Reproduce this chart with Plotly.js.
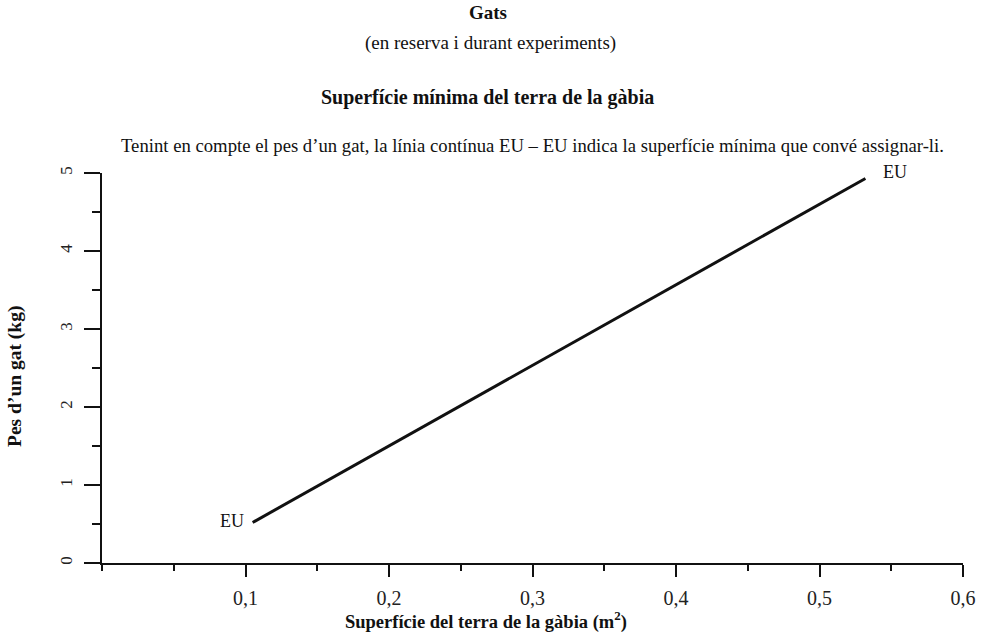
<!DOCTYPE html>
<html>
<head>
<meta charset="utf-8">
<script src="https://cdn.plot.ly/plotly-3.0.1.min.js"></script>
<style>html,body{margin:0;padding:0;background:#fff;}#chart{width:984px;height:635px;}</style>
</head>
<body>
<div id="chart"></div>
<script>
// Data
const surface = [0.105, 0.532];      // m²
const weight  = [0.52, 4.93];        // kg
const lineLabels = ['EU', 'EU'];
const xTickVals = [0.1, 0.2, 0.3, 0.4, 0.5, 0.6];
const yTickVals = [0, 1, 2, 3, 4, 5];

const serif = 'Liberation Serif';

const trace = {
  x: surface, y: weight, type: 'scatter', mode: 'lines',
  line: {color: '#111', width: 3}, hoverinfo: 'skip', showlegend: false
};

const layout = {
  width: 984, height: 635,
  margin: {l: 102, r: 21, t: 173, b: 72},
  paper_bgcolor: '#fff', plot_bgcolor: '#fff',
  separators: ',.',
  font: {family: serif, color: '#111', size: 17},
  showlegend: false,
  xaxis: {
    range: [0, 0.6], showgrid: false, zeroline: false,
    showline: true, linecolor: '#111', linewidth: 2,
    tickmode: 'array', tickvals: xTickVals, tickformat: '.1f',
    ticks: 'outside', ticklen: 12, tickwidth: 2, tickcolor: '#111',
    minor: {dtick: 0.05, tick0: 0, ticks: 'outside', ticklen: 6, tickwidth: 2, tickcolor: '#111', showgrid: false},
    ticklabelstandoff: 4,
    tickfont: {family: serif, size: 20, color: '#222'}
  },
  yaxis: {
    range: [0, 5], showgrid: false, zeroline: false,
    showline: true, linecolor: '#111', linewidth: 2,
    tickmode: 'array', tickvals: yTickVals, tickangle: -90,
    ticks: 'outside', ticklen: 16, tickwidth: 2, tickcolor: '#111',
    minor: {dtick: 0.5, tick0: 0, ticks: 'outside', ticklen: 8, tickwidth: 2, tickcolor: '#111', showgrid: false},
    ticklabelstandoff: 5,
    tickfont: {family: serif, size: 17, color: '#222'}
  },
  annotations: [
    {text: '<b>Gats</b>', xref: 'paper', yref: 'paper', x: 0.448, y: 1, yshift: 173 - 12, xanchor: 'center', yanchor: 'middle', showarrow: false, font: {family: serif, size: 19}},
    {text: '(en reserva i durant experiments)', xref: 'paper', yref: 'paper', x: 0.451, y: 1, yshift: 173 - 43, xanchor: 'center', yanchor: 'middle', showarrow: false, font: {family: serif, size: 19}},
    {text: '<b>Superfície mínima del terra de la gàbia</b>', xref: 'paper', yref: 'paper', x: 0.448, y: 1, yshift: 173 - 97, xanchor: 'center', yanchor: 'middle', showarrow: false, font: {family: serif, size: 20}},
    {text: 'Tenint en compte el pes d’un gat, la línia contínua EU – EU indica la superfície mínima que convé assignar-li.', xref: 'paper', yref: 'paper', x: 0.5, y: 1, yshift: 173 - 145, xanchor: 'center', yanchor: 'middle', showarrow: false, font: {family: serif, size: 18.7}},
    {text: '<b>Superfície del terra de la gàbia (m<sup>2</sup>)</b>', xref: 'paper', yref: 'paper', x: 0.446, y: 0, yshift: 563 - 620, xanchor: 'center', yanchor: 'middle', showarrow: false, font: {family: serif, size: 18.5}},
    {text: '<b>Pes d’un gat (kg)</b>', xref: 'paper', yref: 'paper', x: 0, y: 0.477, xshift: 15 - 102, textangle: -90, xanchor: 'center', yanchor: 'middle', showarrow: false, font: {family: serif, size: 19.5}},
    {text: lineLabels[0], xref: 'x', yref: 'y', x: surface[0], y: weight[0], xanchor: 'right', yanchor: 'middle', xshift: -7, yshift: 1, showarrow: false, font: {family: serif, size: 18}},
    {text: lineLabels[1], xref: 'x', yref: 'y', x: surface[1], y: weight[1], xanchor: 'left', yanchor: 'middle', xshift: 16, yshift: 6, showarrow: false, font: {family: serif, size: 18}}
  ]
};

Plotly.newPlot('chart', [trace], layout, {staticPlot: true, displayModeBar: false});
</script>
</body>
</html>
